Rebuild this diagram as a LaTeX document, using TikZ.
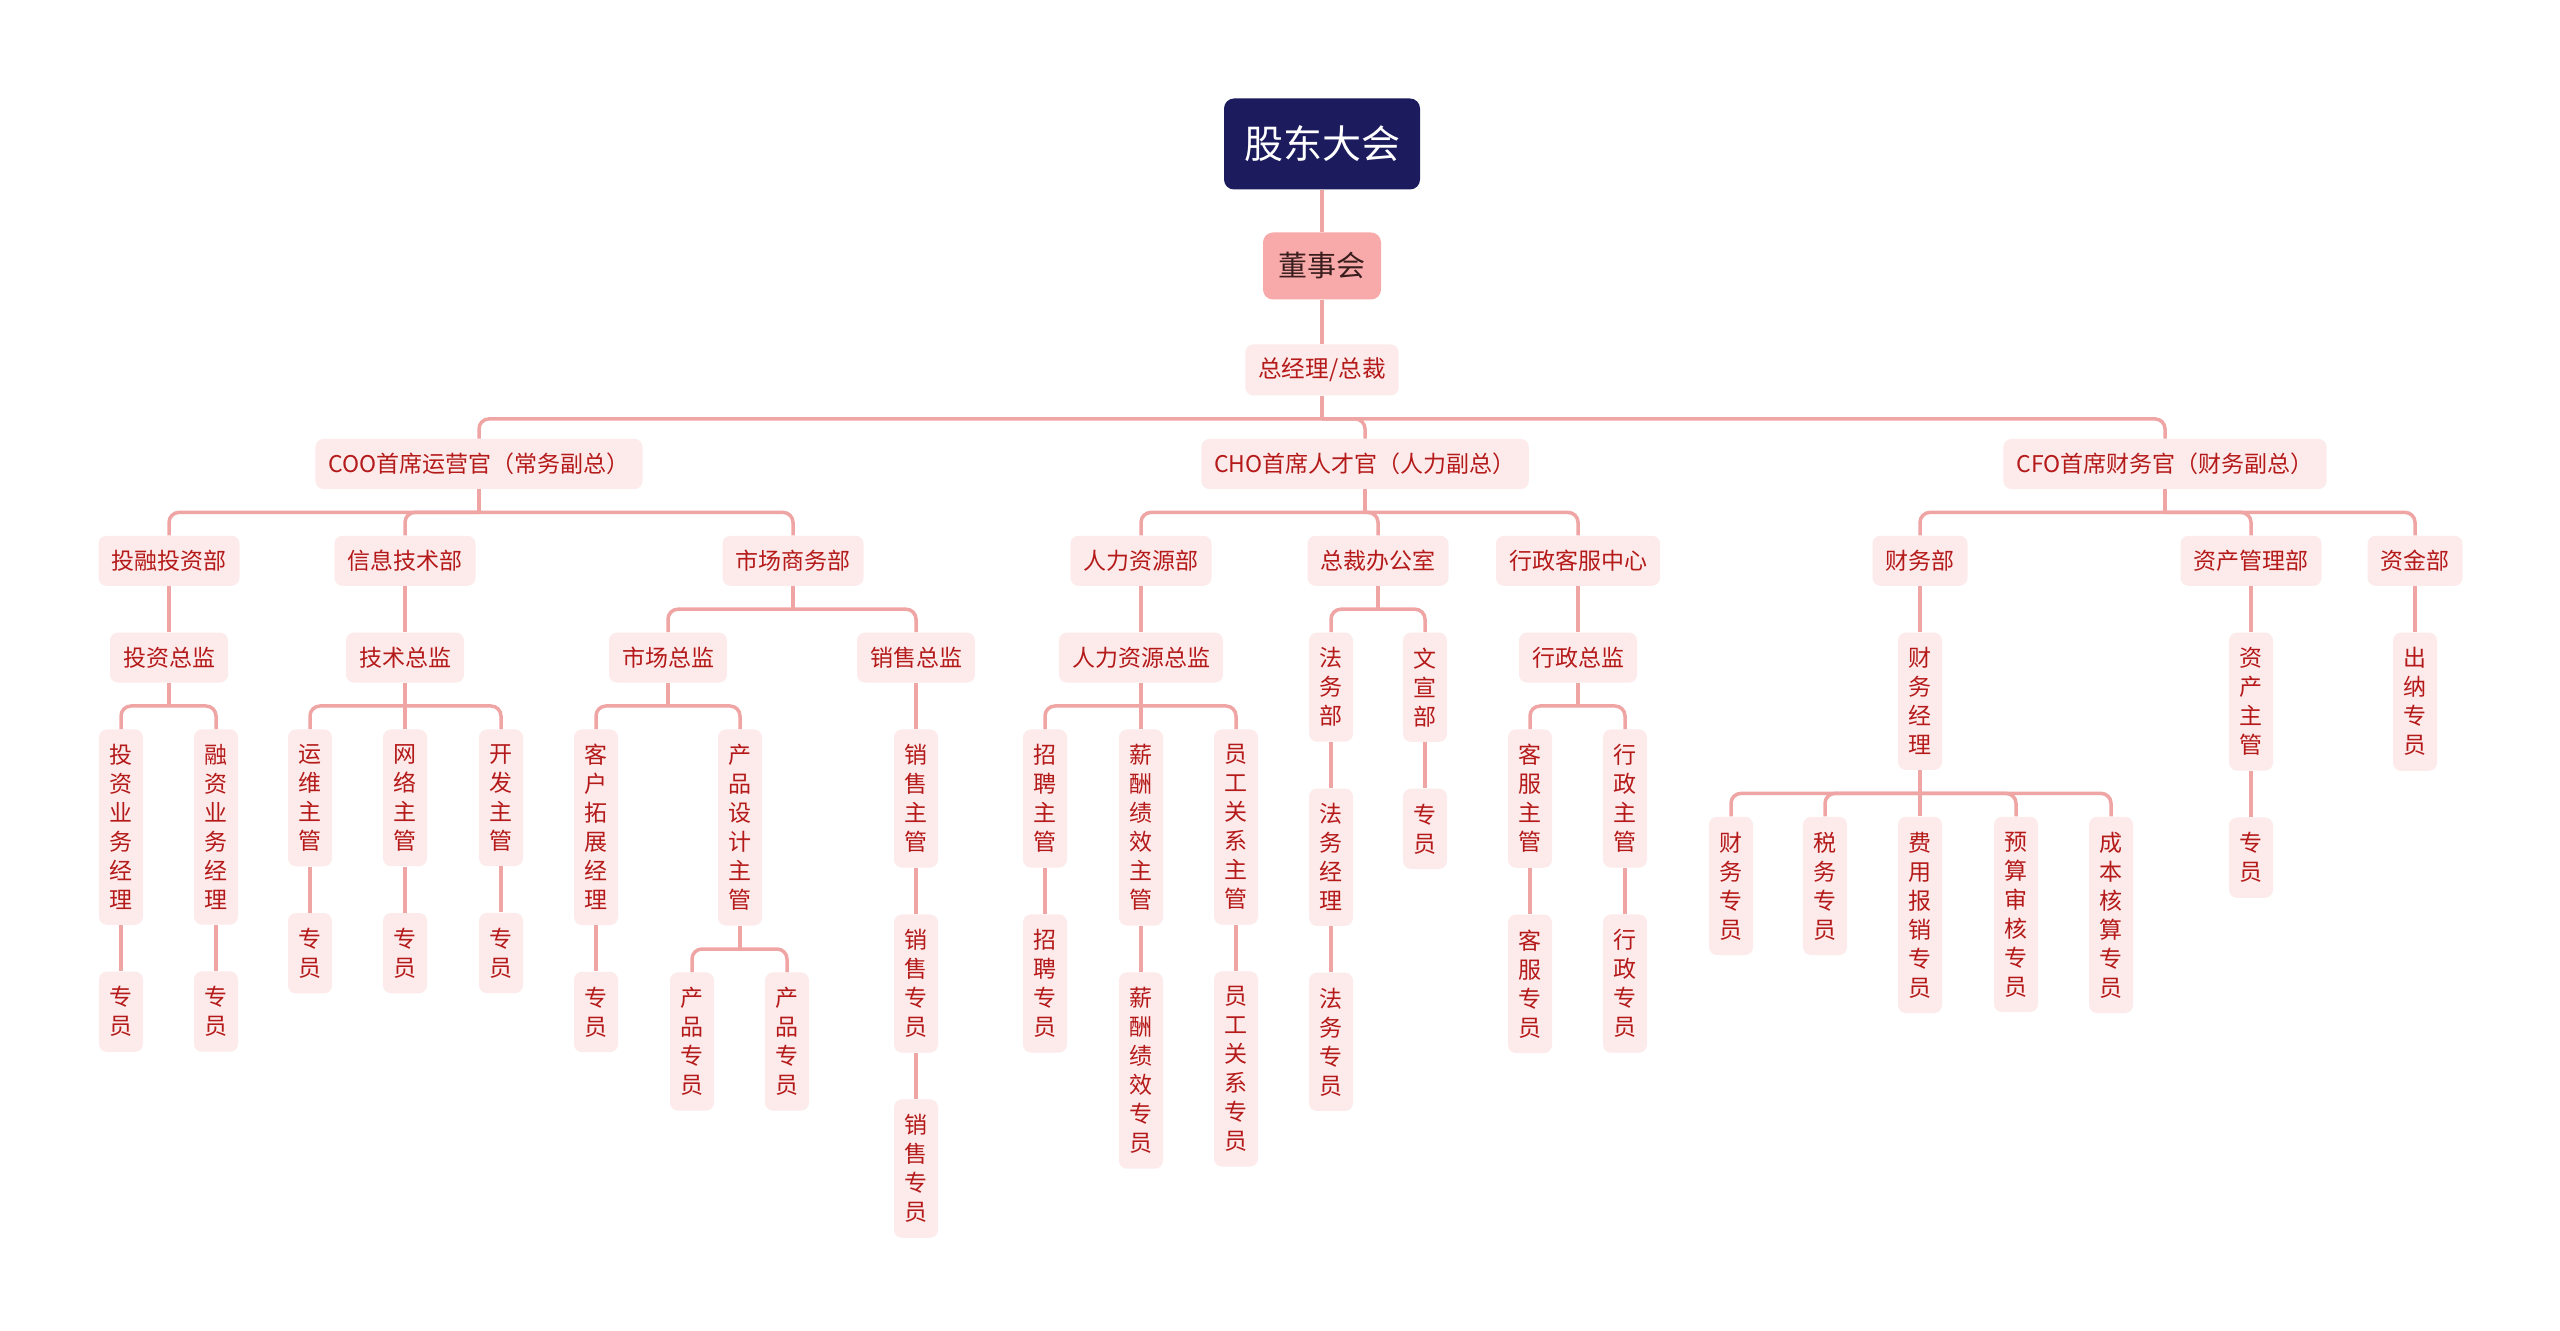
\documentclass[tikz,border=0pt]{standalone}
\usepackage{fontspec}
\setmainfont{Noto Sans CJK SC}
\usepackage{tikz}
\usetikzlibrary{positioning}
\definecolor{rootNavy}{HTML}{1B1B5E}
\definecolor{boardPink}{HTML}{F8A9A9}
\definecolor{boardText}{HTML}{3A1E1E}
\definecolor{boxPink}{HTML}{FDEBEB}
\definecolor{textRed}{HTML}{B51A1A}
\definecolor{linkPink}{HTML}{F0A5A5}

\tikzset{
  box/.style={fill=boxPink, text=textRed, rounded corners=4pt, inner xsep=6.5pt,
    minimum height=25pt, font=\fontsize{11.5}{14.5}\selectfont},
  vbox/.style={box, align=center, inner xsep=5.25pt, inner ysep=7.5pt,
    minimum height=0pt, minimum width=22pt},
  link/.style={draw=linkPink, line width=1.75pt, rounded corners=5pt},
}

\begin{document}
\begin{tikzpicture}[x=0.5pt, y=-0.5pt, node distance=23pt]
  \fill[white] (0,0) rectangle (2560,1331);
  \useasboundingbox (0,0) rectangle (2560,1331);

  % top of the chart
  \node[fill=rootNavy, text=white, rounded corners=5pt, minimum width=98pt, minimum height=45.5pt,
    font=\fontsize{19.5}{22}\selectfont] (gd) at (1322,144) {股东大会};
  \node[fill=boardPink, text=boardText, rounded corners=5pt, minimum width=59pt, minimum height=33.5pt,
    font=\fontsize{14.5}{17}\selectfont] (dsh) at (1322,266) {董事会};
  \node[box, inner xsep=6.5pt, minimum height=25.5pt, font=\fontsize{11.8}{14.5}\selectfont] (zjl) at (1322,370) {总经理/总裁};

  \node[box] (coo) at (479,464) {COO首席运营官（常务副总）};
  \node[box] (cho) at (1365,464) {CHO首席人才官（人力副总）};
  \node[box] (cfo) at (2165,464) {CFO首席财务官（财务副总）};

  % COO branch
  \node[box, below=of coo, xshift=-155pt] (trb) {投融投资部};
  \node[box, below=of coo, xshift=-37pt] (xxb) {信息技术部};
  \node[box, below=of coo, xshift=157pt] (scb) {市场商务部};

  \node[box, below=of trb] (tzzj) {投资总监};
  \node[vbox, below=of tzzj, xshift=-24pt] (tzjl) {投\\资\\业\\务\\经\\理};
  \node[vbox, below=of tzzj, xshift=23.5pt] (rzjl) {融\\资\\业\\务\\经\\理};
  \node[vbox, below=of tzjl] (tzzy) {专\\员};
  \node[vbox, below=of rzjl] (rzzy) {专\\员};

  \node[box, below=of xxb] (jszj) {技术总监};
  \node[vbox, below=of jszj, xshift=-47.5pt] (ywzg) {运\\维\\主\\管};
  \node[vbox, below=of jszj] (wlzg) {网\\络\\主\\管};
  \node[vbox, below=of jszj, xshift=48pt] (kfzg) {开\\发\\主\\管};
  \node[vbox, below=of ywzg] (ywzy) {专\\员};
  \node[vbox, below=of wlzg] (wlzy) {专\\员};
  \node[vbox, below=of kfzg] (kfzy) {专\\员};

  \node[box, below=of scb, xshift=-62.5pt] (sczj) {市场总监};
  \node[box, below=of scb, xshift=61.5pt] (xszj) {销售总监};
  \node[vbox, below=of sczj, xshift=-36pt] (khjl) {客\\户\\拓\\展\\经\\理};
  \node[vbox, below=of sczj, xshift=36pt] (cpzg) {产\\品\\设\\计\\主\\管};
  \node[vbox, below=of khjl] (khzy) {专\\员};
  \node[vbox, below=of cpzg, xshift=-24pt] (cpzya) {产\\品\\专\\员};
  \node[vbox, below=of cpzg, xshift=23.5pt] (cpzyb) {产\\品\\专\\员};
  \node[vbox, below=of xszj] (xszg) {销\\售\\主\\管};
  \node[vbox, below=of xszg] (xszya) {销\\售\\专\\员};
  \node[vbox, below=of xszya] (xszyb) {销\\售\\专\\员};

  % CHO branch
  \node[box, below=of cho, xshift=-112pt] (rlb) {人力资源部};
  \node[box, below=of cho, xshift=6.5pt] (zcb) {总裁办公室};
  \node[box, below=of cho, xshift=106.5pt] (xzb) {行政客服中心};

  \node[box, below=of rlb] (rlzj) {人力资源总监};
  \node[vbox, below=of rlzj, xshift=-48pt] (zpzg) {招\\聘\\主\\管};
  \node[vbox, below=of rlzj] (xczg) {薪\\酬\\绩\\效\\主\\管};
  \node[vbox, below=of rlzj, xshift=47.5pt] (ygzg) {员\\工\\关\\系\\主\\管};
  \node[vbox, below=of zpzg] (zpzy) {招\\聘\\专\\员};
  \node[vbox, below=of xczg] (xczy) {薪\\酬\\绩\\效\\专\\员};
  \node[vbox, below=of ygzg] (ygzy) {员\\工\\关\\系\\专\\员};

  \node[vbox, below=of zcb, xshift=-23.5pt] (fwb) {法\\务\\部};
  \node[vbox, below=of zcb, xshift=23.5pt] (wxb) {文\\宣\\部};
  \node[vbox, below=of fwb] (fwjl) {法\\务\\经\\理};
  \node[vbox, below=of fwjl] (fwzy) {法\\务\\专\\员};
  \node[vbox, below=of wxb] (wxzy) {专\\员};

  \node[box, below=of xzb] (xzzj) {行政总监};
  \node[vbox, below=of xzzj, xshift=-24pt] (kefzg) {客\\服\\主\\管};
  \node[vbox, below=of xzzj, xshift=23.5pt] (xzzg) {行\\政\\主\\管};
  \node[vbox, below=of kefzg] (kefzy) {客\\服\\专\\员};
  \node[vbox, below=of xzzg] (xzzy) {行\\政\\专\\员};

  % CFO branch
  \node[box, below=of cfo, xshift=-122.5pt] (cwb) {财务部};
  \node[box, below=of cfo, xshift=43pt] (zcgl) {资产管理部};
  \node[box, below=of cfo, xshift=125pt] (zjb) {资金部};

  \node[vbox, below=of cwb] (cwjl) {财\\务\\经\\理};
  \node[vbox, below=of cwjl, xshift=-94.5pt] (cwzy) {财\\务\\专\\员};
  \node[vbox, below=of cwjl, xshift=-47.5pt] (swzy) {税\\务\\专\\员};
  \node[vbox, below=of cwjl] (fyzy) {费\\用\\报\\销\\专\\员};
  \node[vbox, below=of cwjl, xshift=48pt] (yszy) {预\\算\\审\\核\\专\\员};
  \node[vbox, below=of cwjl, xshift=95.5pt] (cbzy) {成\\本\\核\\算\\专\\员};

  \node[vbox, below=of zcgl] (zczg) {资\\产\\主\\管};
  \node[vbox, below=of zczg] (zczy) {专\\员};
  \node[vbox, below=of zjb] (cnzy) {出\\纳\\专\\员};

  % straight links
  \draw[link, line width=2.25pt] (gd) -- (dsh);
  \draw[link, line width=2.25pt] (dsh) -- (zjl);
  \foreach \a/\b in {trb/tzzj, tzjl/tzzy, rzjl/rzzy, xxb/jszj, ywzg/ywzy, wlzg/wlzy, kfzg/kfzy,
      khjl/khzy, xszj/xszg, xszg/xszya, xszya/xszyb, rlb/rlzj, zpzg/zpzy, xczg/xczy, ygzg/ygzy,
      fwb/fwjl, fwjl/fwzy, wxb/wxzy, xzb/xzzj, kefzg/kefzy, xzzg/xzzy, cwb/cwjl, zcgl/zczg,
      zczg/zczy, zjb/cnzy}
    \draw[link] (\a) -- (\b);

  % branching links
  \foreach \p/\kids in {zjl/{coo,cho,cfo}, coo/{trb,xxb,scb}, tzzj/{tzjl,rzjl}, jszj/{ywzg,wlzg,kfzg},
      scb/{sczj,xszj}, sczj/{khjl,cpzg}, cpzg/{cpzya,cpzyb}, cho/{rlb,zcb,xzb}, rlzj/{zpzg,xczg,ygzg},
      zcb/{fwb,wxb}, xzzj/{kefzg,xzzg}, cfo/{cwb,zcgl,zjb}, cwjl/{cwzy,swzy,fyzy,yszy,cbzy}} {
    \coordinate (j-\p) at ([yshift=-11.5pt]\p.south);
    \draw[link] (\p) -- (j-\p);
    \foreach \c in \kids
      \draw[link] (j-\p) -| (\c.north);
  }
\end{tikzpicture}
\end{document}
